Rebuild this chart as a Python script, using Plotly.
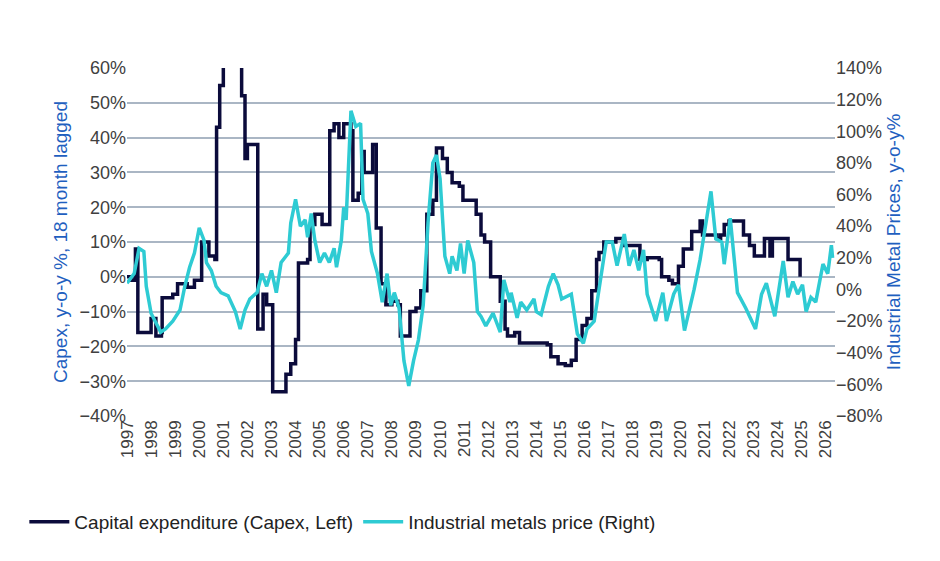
import plotly.graph_objects as go

capex_t = [1997.0,1997.2,1997.35,1997.45,1997.8,1998.0,1998.2,1998.43,1998.46,1998.9,1999.1,1999.5,1999.8,2000.1,2000.4,2000.65,2000.72,2000.85,2001.0,2001.2,2001.7,2001.76,2001.9,2002.0,2002.35,2002.43,2002.6,2002.65,2002.8,2003.05,2003.1,2003.3,2003.6,2003.8,2004.0,2004.12,2004.5,2004.6,2004.8,2005.1,2005.35,2005.42,2005.6,2005.8,2006.0,2006.3,2006.38,2006.6,2006.75,2006.85,2007.1,2007.2,2007.35,2007.55,2007.75,2008.0,2008.25,2008.35,2008.6,2008.75,2009.0,2009.2,2009.4,2009.45,2009.7,2009.85,2010.1,2010.3,2010.5,2010.8,2010.95,2011.3,2011.5,2011.7,2011.85,2012.1,2012.3,2012.5,2012.7,2012.8,2013.1,2013.3,2013.6,2014.0,2014.45,2014.6,2014.9,2015.2,2015.45,2015.65,2015.9,2016.1,2016.3,2016.5,2016.6,2016.8,2017.3,2017.6,2018.0,2018.3,2018.6,2019.1,2019.2,2019.5,2019.65,2019.8,2019.9,2020.1,2020.45,2020.8,2020.9,2021.5,2021.65,2021.8,2022.0,2022.45,2022.6,2022.85,2023.05,2023.3,2023.47,2023.7,2023.8,2024.4,2024.45,2024.8,2024.95]
capex_v = [0,-1,8,-16,-16,-12,-17,-16,-6,-5,-2,-3,-1,10,6,5,43,55,62,70,70,52,34,38,38,-15,-15,-5,-8,-33,-33,-33,-28,-25,-18,4,5,15,18,15,15,42,44,40,44,42,22,24,36,30,30,38,14,-2,-8,-7,-8,-17,-17,-10,-9,-4,-4,18,22,37,34,30,27,26,22,22,18,12,10,0,0,-7,-15,-17,-16,-19,-19,-19,-19.5,-23,-25,-25.5,-24,-18,-14,-12,-4,5,7,10,11,9,9,5,5.5,5,0,-1,-2,-2,3,8,13,16,12,11,12,15,16,16,12,9,6,6,11,6,11,11,5,5,0]

metal_t = [1997.0,1997.3,1997.5,1997.7,1997.8,1998.0,1998.2,1998.4,1998.6,1998.9,1999.2,1999.4,1999.6,1999.8,2000.0,2000.2,2000.3,2000.5,2000.7,2000.9,2001.2,2001.5,2001.7,2001.9,2002.1,2002.4,2002.6,2002.8,2003.0,2003.2,2003.4,2003.7,2003.8,2004.0,2004.2,2004.4,2004.5,2004.65,2004.8,2005.0,2005.2,2005.4,2005.6,2005.7,2005.9,2006.0,2006.1,2006.3,2006.5,2006.7,2006.8,2007.0,2007.15,2007.4,2007.6,2007.8,2007.95,2008.1,2008.3,2008.5,2008.7,2008.9,2009.1,2009.3,2009.5,2009.7,2009.85,2010.0,2010.2,2010.4,2010.5,2010.7,2010.85,2011.0,2011.15,2011.4,2011.55,2011.7,2011.9,2012.2,2012.5,2012.65,2012.9,2012.95,2013.2,2013.35,2013.6,2013.9,2014.0,2014.2,2014.5,2014.7,2014.9,2015.05,2015.45,2015.7,2015.95,2016.1,2016.4,2016.6,2016.9,2017.15,2017.35,2017.65,2017.85,2018.05,2018.25,2018.45,2018.6,2018.95,2019.25,2019.4,2019.7,2019.9,2020.15,2020.55,2020.8,2021.25,2021.45,2021.7,2021.8,2022.05,2022.35,2022.7,2023.1,2023.35,2023.55,2023.9,2024.25,2024.45,2024.65,2024.85,2025.05,2025.2,2025.4,2025.6,2025.9,2026.1,2026.25,2026.3]
metal_v = [4,10,26,24,2,-15,-21,-27,-25,-20,-13,2,14,23,39,31,17,12,2,-2,-4,-14,-25,-13,-6,-2,10,2,12,-2,17,23,42,57,40,44,33,48,31,17,23,17,26,14,31,52,44,113,103,105,57,48,24,10,-8,10,-10,-2,-12,-45,-61,-45,-32,-10,42,80,85,70,21,10,21,12,29,10,31,17,-14,-17,-23,-15,-27,6,-8,-2,-18,-8,-13,-6,-14,-16,2,10,3,-6,-3,-28,-34,-25,-20,0,30,30,15,35,15,25,12,25,-3,-20,-2,-20,-3,3,-26,0,19,62,32,30,16,45,-2,-12,-25,-3,4,-17,18,-5,5,-3,3,-14,-5,-8,16,10,28,20]

years = list(range(1997, 2027))
navy = "#0b0b3b"
teal = "#2ecbd3"
blue = "#1f5fbf"

fig = go.Figure()
fig.add_trace(go.Scatter(x=capex_t, y=capex_v, mode="lines", line=dict(color=navy, width=3.5, shape="hv"),
                         name="Capital expenditure (Capex, Left)", yaxis="y"))
fig.add_trace(go.Scatter(x=metal_t, y=metal_v, mode="lines", line=dict(color=teal, width=3.5),
                         name="Industrial metals price (Right)", yaxis="y2"))

fig.update_layout(
    width=940, height=561, paper_bgcolor="white", plot_bgcolor="white",
    margin=dict(l=119, r=113, t=60, b=153),
    font=dict(family="Liberation Sans, Arial", size=18, color="#404040"),
    xaxis=dict(range=[1997, 2026.4], tickvals=years, ticktext=[str(y) for y in years],
               tickangle=-90, showgrid=False, zeroline=False, ticks="", tickfont=dict(size=17)),
    yaxis=dict(range=[-40, 60], dtick=10, ticksuffix="%", showgrid=True, gridcolor="#aab6c4",
               gridwidth=2, zeroline=False,
               title=dict(text="Capex, y-o-y %, 18 month lagged", font=dict(color=blue, size=19), standoff=6)),
    yaxis2=dict(range=[-80, 140], dtick=20, ticksuffix="%", overlaying="y", side="right",
                showgrid=False, zeroline=False,
                title=dict(text="Industrial Metal Prices, y-o-y%", font=dict(color=blue, size=19), standoff=4)),
    legend=dict(orientation="h", x=-0.145, y=-0.25, xanchor="left", yanchor="top",
                font=dict(size=19, color="#222222"), itemwidth=40),
    showlegend=True,
)
fig.write_html("out.html")
